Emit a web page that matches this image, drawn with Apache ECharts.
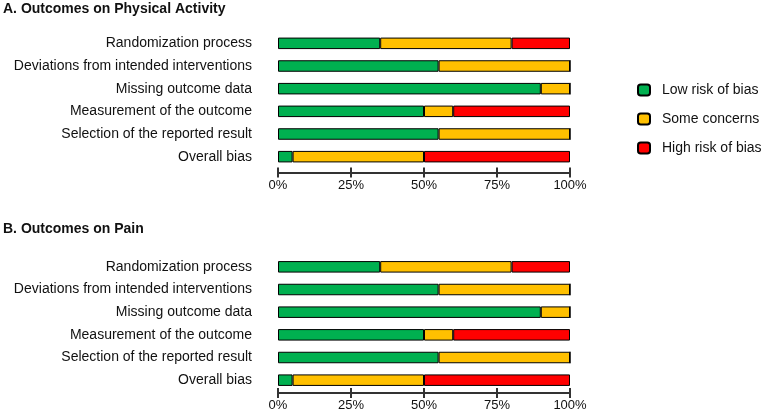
<!DOCTYPE html>
<html>
<head>
<meta charset="utf-8">
<script src="https://cdn.jsdelivr.net/npm/echarts@6/dist/echarts.min.js"></script>
<style>html,body{margin:0;padding:0;background:#fff;}#c{width:763px;height:412px;}</style>
</head>
<body>
<div id="c"></div>
<script>
const categories = ["Randomization process","Deviations from intended interventions","Missing outcome data","Measurement of the outcome","Selection of the reported result","Overall bias"];
const seriesNames = ["Low risk of bias","Some concerns","High risk of bias"];
const colors = ["#00B050","#FFC000","#FF0000"];
const lowA  = [35, 55, 90, 50, 55, 5];
const someA = [45, 45, 10, 10, 45, 45];
const highA = [20, 0, 0, 40, 0, 50];
const lowB  = [35, 55, 90, 50, 55, 5];
const someB = [45, 45, 10, 10, 45, 45];
const highB = [20, 0, 0, 40, 0, 50];
const tickValues = [0, 25, 50, 75, 100];
const titles = ["A. Outcomes on Physical Activity", "B. Outcomes on Pain"];

const chart = echarts.init(document.getElementById('c'));
const font = 'Liberation Sans, Arial, sans-serif';
const grids = [
  {left: 278, width: 292, top: 32, height: 136},
  {left: 278, width: 292, top: 255.5, height: 136}
];
const offsets = [4.5, 1.5];
const xAxes = [];
grids.forEach((g, i) => {
  const base = {
    gridIndex: i, type: 'value', position: 'bottom', min: 0, max: 100, interval: 25,
    offset: offsets[i], splitLine: {show: false}
  };
  xAxes.push(Object.assign({}, base, {
    axisLine: {show: true, lineStyle: {color: '#333', width: 2}},
    axisTick: {show: true, length: 5, lineStyle: {color: '#333', width: 2}},
    axisLabel: {show: true, fontFamily: font, fontSize: 13, color: '#111', margin: 6,
      formatter: v => tickValues.includes(v) ? v + '%' : ''}
  }));
  xAxes.push(Object.assign({}, base, {
    axisLine: {show: false},
    axisTick: {show: true, inside: true, length: 5, lineStyle: {color: '#333', width: 2}},
    axisLabel: {show: false}
  }));
});
const yAxes = grids.map((g, i) => ({
  gridIndex: i, type: 'category', data: categories, inverse: true,
  axisLine: {show: false}, axisTick: {show: false},
  axisLabel: {fontFamily: font, fontSize: 14, color: '#111', margin: 26}
}));
const dataSets = [[lowA, someA, highA], [lowB, someB, highB]];
const series = [];
dataSets.forEach((set, i) => {
  set.forEach((vals, j) => {
    series.push({
      name: seriesNames[j], type: 'bar', stack: 'p' + i,
      xAxisIndex: i * 2, yAxisIndex: i, barWidth: 11.5,
      itemStyle: {color: colors[j], borderColor: '#000', borderWidth: 1},
      data: vals
    });
  });
});
chart.setOption({
  animation: false,
  title: titles.map((t, i) => ({
    text: t, left: -2, top: i === 0 ? -3 : 217,
    textStyle: {fontFamily: font, fontSize: 14, fontWeight: 'bold', color: '#111'}
  })),
  legend: {
    data: seriesNames, orient: 'vertical', left: 632, top: 78,
    itemWidth: 12, itemHeight: 11, itemGap: 15,
    textStyle: {fontFamily: font, fontSize: 14, color: '#111', padding: [0, 0, 0, 7]},
    selectedMode: false
  },
  grid: grids,
  xAxis: xAxes,
  yAxis: yAxes,
  series: series
});
</script>
</body>
</html>
